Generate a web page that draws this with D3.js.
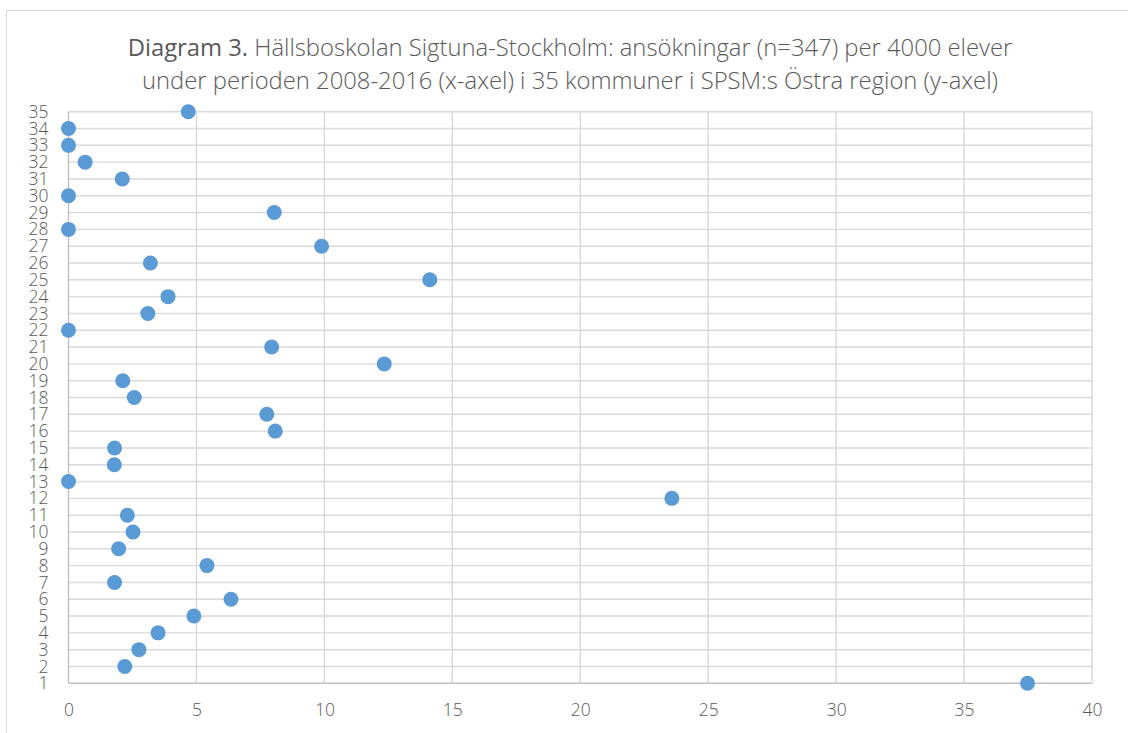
<!DOCTYPE html>
<html>
<head>
<meta charset="utf-8">
<script src="https://cdn.jsdelivr.net/npm/d3@7"></script>
<style>
  body { margin: 0; background: #fff; }
  svg { display: block; font-family: "Open Sans", "Liberation Sans", sans-serif; }
</style>
</head>
<body>
<div id="chart"></div>
<script>
const width = 1128, height = 733;
const margin = { top: 111.7, right: 36, bottom: 49.7, left: 68.5 };

// kommun nr (y) and ansökningar per 4000 elever (x)
const kommuner = d3.range(1, 36);
const values = [37.48, 2.2, 2.75, 3.5, 4.9, 6.35, 1.8, 5.41, 1.96, 2.52,
    2.3, 23.58, 0, 1.79, 1.8, 8.08, 7.75, 2.57, 2.12, 12.34,
    7.94, 0, 3.1, 3.89, 14.12, 3.2, 9.89, 0, 8.04, 0,
    2.1, 0.65, 0, 0, 4.68];
const xTicks = [0, 5, 10, 15, 20, 25, 30, 35, 40];
const titleLines = [
    ["Diagram 3.", " Hällsboskolan Sigtuna-Stockholm: ansökningar (n=347) per 4000 elever"],
    ["", "under perioden 2008-2016 (x-axel) i 35 kommuner i SPSM:s Östra region (y-axel)"]
];

var svg = d3.select("#chart")
    .append("svg")
    .attr("width", width)
    .attr("height", height);

// chart frame
svg.append("rect")
    .attr("x", 6.5).attr("y", 10.5)
    .attr("width", 1130).attr("height", 740)
    .attr("fill", "white")
    .attr("stroke", "#d9d9d9")
    .attr("stroke-width", 1);

var x = d3.scaleLinear()
    .domain([0, 40])
    .range([margin.left, width - margin.right]);

var y = d3.scaleLinear()
    .domain([1, 35])
    .range([height - margin.bottom, margin.top]);

// gridlines
svg.append("g")
    .selectAll("line")
    .data(kommuner)
    .enter().append("line")
    .attr("x1", x(0)).attr("x2", x(40))
    .attr("y1", d => y(d)).attr("y2", d => y(d))
    .attr("stroke", d => d === 1 ? "#bfbfbf" : "#d9d9d9")
    .attr("stroke-width", 1.4);

svg.append("g")
    .selectAll("line")
    .data(xTicks)
    .enter().append("line")
    .attr("x1", d => x(d)).attr("x2", d => x(d))
    .attr("y1", y(35)).attr("y2", y(1))
    .attr("stroke", d => d === 0 ? "#bfbfbf" : "#d9d9d9")
    .attr("stroke-width", 1.4);

// axes labels
var xAxis = svg.append("g")
    .attr("transform", "translate(0," + y(1) + ")")
    .call(d3.axisBottom(x).tickValues(xTicks).tickSize(0).tickPadding(20));
xAxis.attr("font-family", null).attr("font-size", null);
xAxis.select(".domain").remove();
xAxis.selectAll("text")
    .attr("fill", "#595959")
    .style("font-size", "17.5px")
    .style("font-weight", 300);

var yAxis = svg.append("g")
    .attr("transform", "translate(" + x(0) + ",0)")
    .call(d3.axisLeft(y).tickValues(kommuner).tickFormat(d3.format("d")).tickSize(0).tickPadding(20));
yAxis.attr("font-family", null).attr("font-size", null);
yAxis.select(".domain").remove();
yAxis.selectAll("text")
    .attr("fill", "#595959")
    .style("font-size", "17.5px")
    .style("font-weight", 300);

// points
svg.append("g")
    .selectAll("circle")
    .data(values)
    .enter().append("circle")
    .attr("cx", d => x(d))
    .attr("cy", (d, i) => y(kommuner[i]))
    .attr("r", 7.5)
    .attr("fill", "#5b9bd5");

// title
var title = svg.append("text")
    .attr("text-anchor", "middle")
    .attr("fill", "#595959")
    .style("font-size", "23.8px");

titleLines.forEach(function (line, i) {
    var t = title.append("tspan")
        .attr("x", 570)
        .attr("y", 56 + i * 33);
    if (line[0]) {
        t.append("tspan").style("font-weight", 400).text(line[0]);
    }
    t.append("tspan").style("font-weight", 300).text(line[1]);
});
</script>
</body>
</html>
